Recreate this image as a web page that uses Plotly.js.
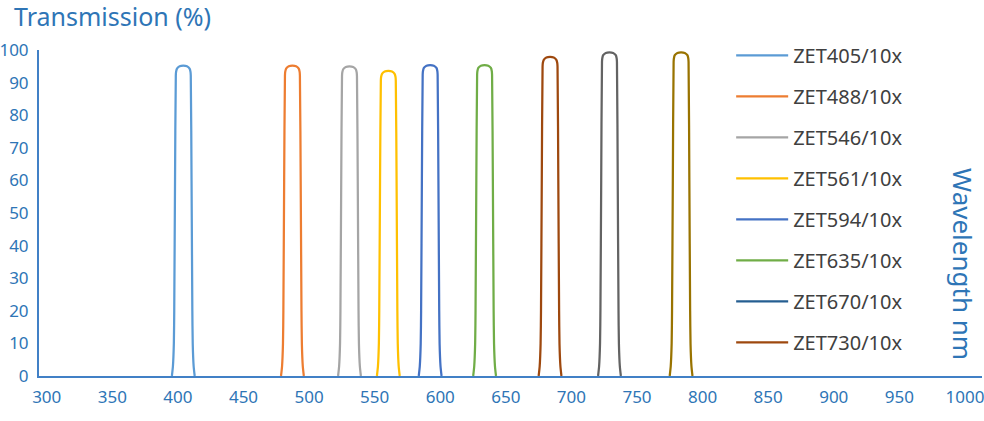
<!DOCTYPE html>
<html>
<head>
<meta charset="utf-8">
<script src="https://cdn.plot.ly/plotly-3.0.1.min.js"></script>
<style>html,body{margin:0;padding:0;background:#fff;}#chart{width:984px;height:421px;}</style>
</head>
<body>
<div id="chart"></div>
<script>
// Transmission spectra (wavelength nm, transmission %)
var x405 = [395.4, 396.2, 396.9, 397.2, 397.8, 398.4, 398.6, 399.3, 401.3, 404.1, 406.9, 408.9, 409.6, 409.8, 410.4, 411.0, 411.3, 412.0, 412.8];
var y405 = [0, 3, 10, 20, 60, 92.2, 93.3, 94.3, 95.0, 95.2, 95.0, 94.3, 93.3, 92.2, 60, 20, 10, 3, 0];
var x488 = [478.6, 479.4, 480.1, 480.4, 481.0, 481.6, 481.8, 482.5, 484.5, 487.3, 490.1, 492.1, 492.8, 493.0, 493.6, 494.2, 494.5, 495.2, 496.0];
var y488 = [0, 3, 10, 20, 60, 92.2, 93.3, 94.3, 95.0, 95.2, 95.0, 94.3, 93.3, 92.2, 60, 20, 10, 3, 0];
var x546 = [522.1, 522.9, 523.6, 523.9, 524.5, 525.1, 525.3, 526.0, 528.0, 530.8, 533.6, 535.6, 536.3, 536.5, 537.1, 537.7, 538.0, 538.7, 539.5];
var y546 = [0, 3, 10, 20, 60, 92.0, 93.1, 94.1, 94.8, 95.0, 94.8, 94.1, 93.1, 92.0, 60, 20, 10, 3, 0];
var x561 = [551.7, 552.5, 553.2, 553.5, 554.1, 554.7, 554.9, 555.6, 557.6, 560.4, 563.2, 565.2, 565.9, 566.1, 566.7, 567.3, 567.6, 568.3, 569.1];
var y561 = [0, 3, 10, 20, 60, 90.6, 91.7, 92.7, 93.4, 93.6, 93.4, 92.7, 91.7, 90.6, 60, 20, 10, 3, 0];
var x594 = [583.6, 584.4, 585.1, 585.4, 586.0, 586.6, 586.8, 587.5, 589.5, 592.3, 595.1, 597.1, 597.8, 598.0, 598.6, 599.2, 599.5, 600.2, 601.0];
var y594 = [0, 3, 10, 20, 60, 92.4, 93.5, 94.5, 95.2, 95.4, 95.2, 94.5, 93.5, 92.4, 60, 20, 10, 3, 0];
var x635 = [625.1, 625.9, 626.6, 626.9, 627.5, 628.1, 628.3, 629.0, 631.0, 633.8, 636.6, 638.6, 639.3, 639.5, 640.1, 640.7, 641.0, 641.7, 642.5];
var y635 = [0, 3, 10, 20, 60, 92.4, 93.5, 94.5, 95.2, 95.4, 95.2, 94.5, 93.5, 92.4, 60, 20, 10, 3, 0];
var x670 = [null];
var y670 = [null];
var x730 = [675.0, 675.8, 676.5, 676.8, 677.4, 678.0, 678.2, 678.9, 680.9, 683.7, 686.5, 688.5, 689.2, 689.4, 690.0, 690.6, 690.9, 691.6, 692.4];
var y730 = [0, 3, 10, 20, 60, 94.9, 96.0, 97.0, 97.7, 97.9, 97.7, 97.0, 96.0, 94.9, 60, 20, 10, 3, 0];
var xExtra1 = [720.3, 721.1, 721.8, 722.1, 722.7, 723.3, 723.5, 724.2, 726.2, 729.0, 731.8, 733.8, 734.5, 734.7, 735.3, 735.9, 736.2, 736.9, 737.7];
var yExtra1 = [0, 3, 10, 20, 60, 96.3, 97.4, 98.4, 99.1, 99.3, 99.1, 98.4, 97.4, 96.3, 60, 20, 10, 3, 0];
var xExtra2 = [774.9, 775.7, 776.4, 776.7, 777.3, 777.9, 778.1, 778.8, 780.8, 783.6, 786.4, 788.4, 789.1, 789.3, 789.9, 790.5, 790.8, 791.5, 792.3];
var yExtra2 = [0, 3, 10, 20, 60, 96.3, 97.4, 98.4, 99.1, 99.3, 99.1, 98.4, 97.4, 96.3, 60, 20, 10, 3, 0];

var seriesNames = ['ZET405/10x', 'ZET488/10x', 'ZET546/10x', 'ZET561/10x', 'ZET594/10x', 'ZET635/10x', 'ZET670/10x', 'ZET730/10x', '', ''];
var seriesX = [x405, x488, x546, x561, x594, x635, x670, x730, xExtra1, xExtra2];
var seriesY = [y405, y488, y546, y561, y594, y635, y670, y730, yExtra1, yExtra2];
var seriesColors = ['#5B9BD5', '#ED7D31', '#A5A5A5', '#FFC000', '#4472C4', '#70AD47', '#255E91', '#9E480E', '#636363', '#997300'];

var xTickVals = [300, 350, 400, 450, 500, 550, 600, 650, 700, 750, 800, 850, 900, 950, 1000];
var yTickVals = [0, 10, 20, 30, 40, 50, 60, 70, 80, 90, 100];

var blueText = '#2E75B6';
var blueLine = '#4180C6';

var traces = seriesNames.map(function (n, i) {
  return {
    type: 'scatter', mode: 'lines',
    x: seriesX[i], y: seriesY[i],
    name: n,
    legendgroup: 'g' + i,
    showlegend: n !== '',
    line: {color: seriesColors[i], width: 2.25, shape: 'spline', smoothing: 0.6},
    hoverinfo: 'skip'
  };
});

var layout = {
  width: 984, height: 421,
  margin: {l: 39, r: 2, t: 50, b: 45, pad: 0},
  paper_bgcolor: '#ffffff', plot_bgcolor: '#ffffff',
  font: {family: 'Noto Sans, sans-serif', color: blueText},
  showlegend: true,
  title: {
    text: 'Transmission (%)',
    font: {size: 25, color: blueText, family: 'Noto Sans, sans-serif'},
    xref: 'container', yref: 'container',
    x: 14 / 984, xanchor: 'left',
    y: 1 - 17 / 421, yanchor: 'middle'
  },
  xaxis: {
    range: [294.1, 1013],
    tickmode: 'array', tickvals: xTickVals,
    showgrid: false, zeroline: false,
    showline: true, linecolor: blueLine, linewidth: 2,
    ticks: '', ticklabelstandoff: 5,
    ticklabeloverflow: 'allow',
    tickfont: {size: 17, color: blueText}
  },
  yaxis: {
    range: [0, 100],
    tickmode: 'array', tickvals: yTickVals,
    showgrid: false, zeroline: false,
    showline: true, linecolor: blueLine, linewidth: 2,
    ticks: '', ticklabelstandoff: 5,
    ticklabeloverflow: 'allow',
    tickfont: {size: 17, color: blueText}
  },
  legend: {
    x: 0.734, xanchor: 'left', xref: 'paper',
    y: 1.043, yanchor: 'top', yref: 'paper',
    font: {size: 20, color: '#404040'},
    itemwidth: 52,
    traceorder: 'grouped',
    tracegroupgap: 12,
    maxheight: 420,
    bgcolor: 'rgba(0,0,0,0)'
  },
  annotations: [{
    text: 'Wavelength nm',
    xref: 'paper', yref: 'paper',
    x: (963 - 39) / 943, y: (376 - 264) / 326,
    xanchor: 'center', yanchor: 'middle',
    textangle: 90, showarrow: false,
    font: {size: 26, color: blueText}
  }]
};

Plotly.newPlot('chart', traces, layout, {displayModeBar: false, staticPlot: true}).then(function () {
  var lines = document.querySelectorAll('.legend .js-line');
  lines.forEach(function (p) { p.setAttribute('d', 'M5,0h52'); });
});
</script>
</body>
</html>
